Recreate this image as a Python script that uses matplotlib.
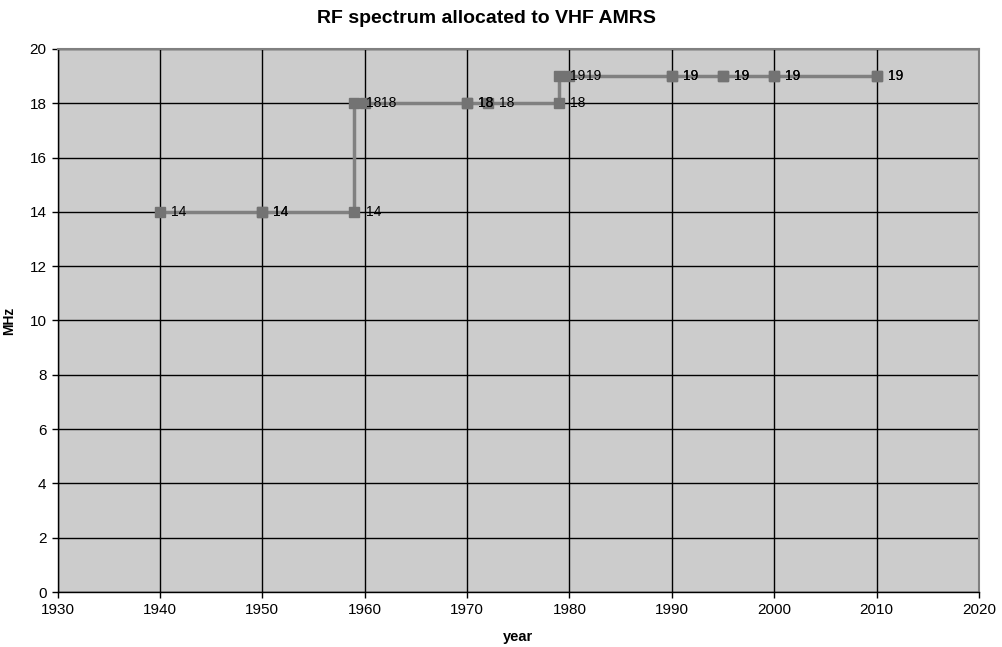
import matplotlib
matplotlib.use("Agg")
from matplotlib import pyplot as plt

plt.rcParams['font.family'] = ['Liberation Sans', 'DejaVu Sans']

# data (duplicates where the label looks doubled/bold)
years = [1940, 1950, 1950, 1959, 1959, 1960, 1970, 1970, 1972, 1979, 1979, 1980,
         1990, 1990, 1995, 1995, 2000, 2000, 2010, 2010]
mhz = [14, 14, 14, 14, 18, 18, 18, 18, 18, 18, 19, 19,
       19, 19, 19, 19, 19, 19, 19, 19]

x_ticks = list(range(1930, 2021, 10))
y_ticks = list(range(0, 21, 2))

fig = plt.figure(figsize=(10.02, 6.47), dpi=100)
ax = fig.add_axes([0.0574, 0.085, 0.9196, 0.8393])
ax.set_facecolor('#cccccc')

ax.plot(years, mhz, color='#808080', lw=2.5, marker='s', markersize=6.5,
        markerfacecolor='#737373', markeredgecolor='#737373', zorder=3)
prev = None
for x, y in zip(years, mhz):
    # labels of points that sit right next to each other get pushed apart a bit
    dx = 8
    if prev is not None and prev[1] == y and 0 < x - prev[0] < 2:
        dx = 12
    ax.annotate(str(y), (x, y), xytext=(dx, 0), textcoords='offset points',
                va='center', ha='left', fontsize=10, color='black', zorder=4)
    prev = (x, y)

ax.set_xlim(1930, 2020)
ax.set_ylim(0, 20)
ax.set_xticks(x_ticks)
ax.set_yticks(y_ticks)
ax.grid(True, color='black', lw=1)
ax.set_axisbelow(True)
for side in ('top', 'right'):
    ax.spines[side].set_color('#808080')
    ax.spines[side].set_linewidth(1.5)
for side in ('left', 'bottom'):
    ax.spines[side].set_color('black')
    ax.spines[side].set_linewidth(1)
ax.tick_params(direction='out', length=4, width=1, labelsize=11, pad=4)

fig.text(0.4855, 0.972, 'RF spectrum allocated to VHF AMRS', fontsize=14,
         fontweight='bold', ha='center', va='center')
ax.set_xlabel('year', fontsize=10.5, fontweight='bold', labelpad=9)
ax.set_ylabel('MHz', fontsize=10, fontweight='bold')
ax.yaxis.set_label_coords(-0.045, 0.5)

fig.savefig('out.png', dpi=100)
